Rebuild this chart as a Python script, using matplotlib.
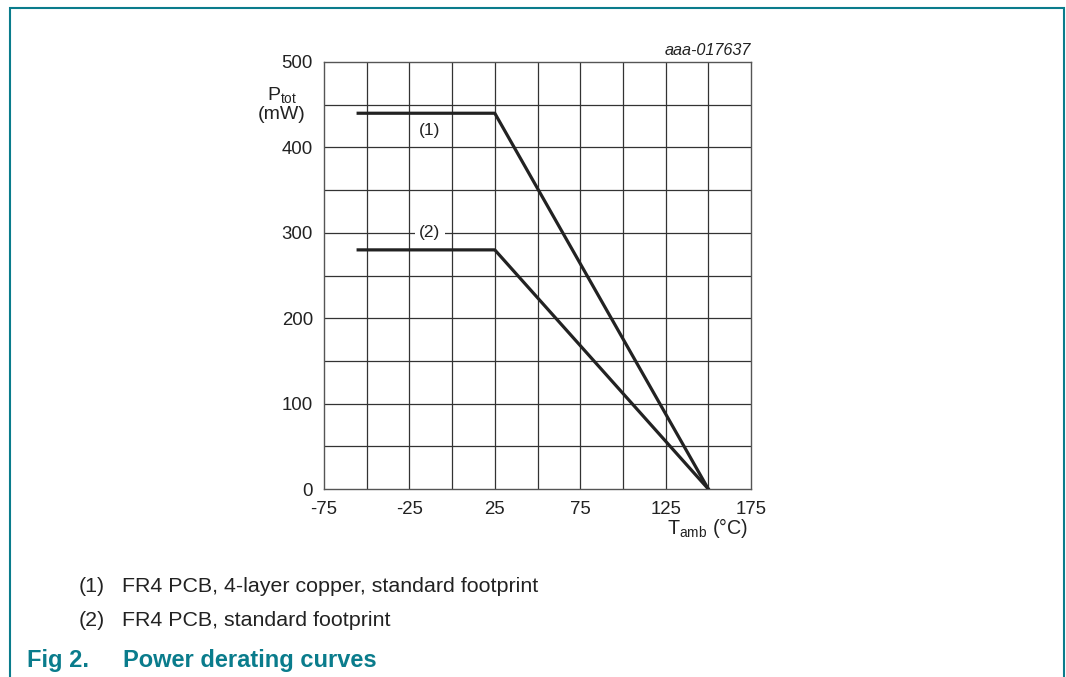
import matplotlib.pyplot as plt
from matplotlib.patches import Rectangle

plt.rcParams['font.family'] = ['Liberation Sans', 'DejaVu Sans']

# Data
t_amb = [-55, 25, 150]
p_tot_1 = [440, 440, 0]   # FR4 PCB, 4-layer copper, standard footprint
p_tot_2 = [280, 280, 0]   # FR4 PCB, standard footprint
x_ticks = [-75, -25, 25, 75, 125, 175]
y_ticks = [0, 100, 200, 300, 400, 500]
notes = ['FR4 PCB, 4-layer copper, standard footprint', 'FR4 PCB, standard footprint']

teal = '#0a7c8c'

fig = plt.figure(figsize=(10.66, 6.77), dpi=100)

# Teal frame around the whole figure
fig.patches.append(Rectangle((10 / 1066, -0.01), (1064 - 10) / 1066, 1.01 - 8 / 677,
                             transform=fig.transFigure, fill=False,
                             edgecolor=teal, linewidth=1.5))

ax = fig.add_axes([324 / 1066, 1 - 489 / 677, 427 / 1066, 427 / 677])
ax.set_xlim(-75, 175)
ax.set_ylim(0, 500)

for x in range(-50, 175, 25):
    ax.axvline(x, color='#333333', lw=0.9, zorder=1)
for y in range(50, 500, 50):
    ax.axhline(y, color='#333333', lw=0.9, zorder=1)

ax.plot(t_amb, p_tot_1, color='#222222', lw=2.3, zorder=3)
ax.plot(t_amb, p_tot_2, color='#222222', lw=2.3, zorder=3)

ax.text(-13, 420, '(1)', fontsize=12.5, ha='center', va='center', color='#222222',
        bbox=dict(facecolor='white', edgecolor='none', pad=2), zorder=2)
ax.text(-13, 300, '(2)', fontsize=12.5, ha='center', va='center', color='#222222',
        bbox=dict(facecolor='white', edgecolor='none', pad=3), zorder=2)

ax.set_xticks(x_ticks)
ax.set_yticks(y_ticks)
ax.set_xticklabels([str(v) for v in x_ticks], fontsize=13.4)
ax.set_yticklabels([str(v) for v in y_ticks], fontsize=13.4)
ax.tick_params(axis='x', length=0, pad=9, colors='#222222')
ax.tick_params(axis='y', length=0, pad=8, colors='#222222')
for s in ax.spines.values():
    s.set_color('#555555')
    s.set_linewidth(1.0)

ax.text(1.0, 1.01, 'aaa-017637', transform=ax.transAxes, ha='right', va='bottom',
        fontsize=11.7, style='italic', color='#222222')
fig.text(282 / 1066, 1 - 104 / 677, 'P$_{\\mathregular{tot}}$\n(mW)', ha='center',
         va='center', fontsize=14, color='#222222', linespacing=1.0)
fig.text(708 / 1066, 1 - 528 / 677, 'T$_{\\mathregular{amb}}$ (°C)', ha='center',
         va='center', fontsize=14.2, color='#222222')

for i, note in enumerate(notes):
    yy = 1 - (586 + 34 * i) / 677
    fig.text(79 / 1066, yy, '(%d)' % (i + 1), ha='left', va='center', fontsize=15.4, color='#222222')
    fig.text(122 / 1066, yy, note, ha='left', va='center', fontsize=15.4, color='#222222')

fig.text(27 / 1066, 1 - 661 / 677, 'Fig 2.', ha='left', va='center', fontsize=17,
         fontweight='bold', color=teal)
fig.text(123 / 1066, 1 - 661 / 677, 'Power derating curves', ha='left', va='center',
         fontsize=17, fontweight='bold', color=teal)

fig.savefig('out.png', dpi=100)
